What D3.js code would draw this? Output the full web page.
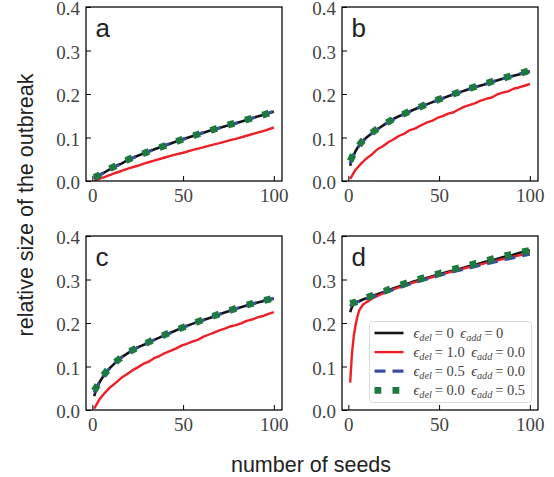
<!DOCTYPE html>
<html>
<head>
<meta charset="utf-8">
<script src="https://cdn.jsdelivr.net/npm/d3@7"></script>
<style>
  html, body { margin: 0; padding: 0; background: #fff; }
  svg { display: block; }
</style>
</head>
<body>
<svg id="chart" width="554" height="477"></svg>
<script>
// number of seeds (x values)
const seeds = [1, 2, 3, 4, 5, 6, 8, 10, 13, 16, 20, 25, 30, 35, 40, 45, 50, 55, 60, 65, 70, 75, 80, 85, 90, 95, 100];
const seedsFine = [1, 4, 7, 10, 13, 16, 19, 22, 25, 28, 31, 34, 37, 40, 43, 46, 49, 52, 55, 58, 61, 64, 67, 70, 73, 76, 79, 82, 85, 88, 91, 94, 97, 100];

// panel a
const aBlack = [0.005, 0.008, 0.011, 0.013, 0.016, 0.018, 0.023, 0.028, 0.034, 0.040, 0.049, 0.058, 0.066, 0.074, 0.081, 0.089, 0.096, 0.103, 0.109, 0.116, 0.122, 0.128, 0.134, 0.140, 0.147, 0.153, 0.160];
const aRed   = [0.001, 0.002, 0.004, 0.005, 0.007, 0.008, 0.011, 0.014, 0.019, 0.023, 0.029, 0.035, 0.042, 0.048, 0.054, 0.060, 0.065, 0.071, 0.076, 0.082, 0.087, 0.093, 0.098, 0.104, 0.110, 0.116, 0.123];
const aBlue  = [0.006, 0.009, 0.011, 0.014, 0.016, 0.018, 0.023, 0.028, 0.034, 0.041, 0.049, 0.058, 0.066, 0.074, 0.082, 0.089, 0.096, 0.103, 0.110, 0.116, 0.122, 0.128, 0.134, 0.141, 0.147, 0.153, 0.160];
const aGreen = [0.008, 0.010, 0.012, 0.014, 0.017, 0.019, 0.024, 0.029, 0.035, 0.041, 0.050, 0.058, 0.066, 0.074, 0.081, 0.089, 0.096, 0.103, 0.110, 0.116, 0.123, 0.129, 0.135, 0.141, 0.147, 0.153, 0.160];

// panel b
const bBlack = [0.035, 0.050, 0.060, 0.069, 0.076, 0.082, 0.092, 0.100, 0.110, 0.119, 0.130, 0.143, 0.153, 0.162, 0.171, 0.179, 0.187, 0.195, 0.202, 0.209, 0.216, 0.222, 0.229, 0.235, 0.241, 0.246, 0.252];
const bRed   = [0.005, 0.026, 0.040, 0.052, 0.061, 0.073, 0.080, 0.089, 0.096, 0.104, 0.109, 0.117, 0.121, 0.128, 0.134, 0.138, 0.145, 0.149, 0.155, 0.158, 0.165, 0.171, 0.175, 0.179, 0.185, 0.189, 0.192, 0.199, 0.203, 0.206, 0.212, 0.215, 0.219, 0.223];
const bBlue  = [0.040, 0.052, 0.061, 0.069, 0.076, 0.082, 0.092, 0.100, 0.110, 0.119, 0.130, 0.142, 0.152, 0.162, 0.171, 0.179, 0.187, 0.195, 0.202, 0.209, 0.216, 0.222, 0.229, 0.235, 0.241, 0.247, 0.252];
const bGreen = [0.046, 0.055, 0.063, 0.070, 0.077, 0.083, 0.093, 0.101, 0.111, 0.120, 0.131, 0.143, 0.153, 0.163, 0.171, 0.180, 0.188, 0.195, 0.203, 0.210, 0.217, 0.223, 0.230, 0.236, 0.242, 0.248, 0.254];

// panel c
const cBlack = [0.032, 0.045, 0.055, 0.064, 0.071, 0.077, 0.089, 0.098, 0.110, 0.121, 0.132, 0.144, 0.153, 0.163, 0.172, 0.181, 0.190, 0.198, 0.205, 0.212, 0.220, 0.227, 0.234, 0.240, 0.246, 0.251, 0.256];
const cRed   = [0.003, 0.025, 0.040, 0.053, 0.063, 0.074, 0.082, 0.091, 0.098, 0.106, 0.111, 0.119, 0.124, 0.131, 0.136, 0.141, 0.148, 0.152, 0.157, 0.161, 0.168, 0.173, 0.178, 0.183, 0.187, 0.192, 0.195, 0.199, 0.205, 0.208, 0.213, 0.216, 0.221, 0.225];
const cBlue  = [0.040, 0.049, 0.057, 0.065, 0.072, 0.078, 0.089, 0.098, 0.110, 0.121, 0.132, 0.144, 0.153, 0.163, 0.172, 0.181, 0.190, 0.198, 0.205, 0.212, 0.220, 0.227, 0.234, 0.240, 0.246, 0.252, 0.257];
const cGreen = [0.044, 0.051, 0.058, 0.066, 0.073, 0.079, 0.090, 0.099, 0.111, 0.121, 0.133, 0.144, 0.154, 0.164, 0.173, 0.182, 0.190, 0.198, 0.206, 0.213, 0.221, 0.228, 0.235, 0.241, 0.247, 0.252, 0.257];

// panel d
const dBlack = [0.225, 0.237, 0.243, 0.246, 0.249, 0.250, 0.254, 0.257, 0.262, 0.266, 0.272, 0.280, 0.287, 0.294, 0.300, 0.306, 0.312, 0.318, 0.323, 0.329, 0.334, 0.340, 0.345, 0.351, 0.356, 0.362, 0.367];
const dRed   = [0.063, 0.130, 0.170, 0.196, 0.215, 0.229, 0.242, 0.248, 0.256, 0.262, 0.270, 0.278, 0.285, 0.292, 0.298, 0.304, 0.310, 0.316, 0.321, 0.327, 0.332, 0.337, 0.342, 0.347, 0.352, 0.356, 0.361];
const dBlue  = [0.238, 0.242, 0.245, 0.247, 0.249, 0.250, 0.253, 0.256, 0.260, 0.264, 0.270, 0.277, 0.284, 0.291, 0.297, 0.303, 0.309, 0.315, 0.320, 0.325, 0.330, 0.335, 0.340, 0.345, 0.349, 0.354, 0.358];
const dGreen = [0.245, 0.246, 0.247, 0.248, 0.250, 0.251, 0.254, 0.258, 0.263, 0.267, 0.273, 0.282, 0.289, 0.296, 0.302, 0.308, 0.314, 0.320, 0.326, 0.331, 0.337, 0.342, 0.348, 0.353, 0.358, 0.363, 0.367];

// axis ticks
const yTicks = [0.0, 0.1, 0.2, 0.3, 0.4];
const xTicks = [0, 50, 100];

// legend text parts
const epsDel = ["0", "1.0", "0.5", "0.0"];
const epsAdd = ["0", "0.0", "0.0", "0.5"];

// ---- drawing ----
const W = 196, H = 174;
const styles = [
  { stroke: "#141414", width: 2.6, dash: null },
  { stroke: "#ee1f26", width: 2.4, dash: null },
  { stroke: "#3a4ea2", width: 3.2, dash: "11,7" },
  { stroke: "#1c7a3c", width: 6.8, dash: "6.8,11.2" }
];

const panels = [
  { label: "a", left: 86,  top: 7,   series: [[seeds, aBlack], [seeds, aRed], [seeds, aBlue], [seeds, aGreen]] },
  { label: "b", left: 342, top: 7,   series: [[seeds, bBlack], [seedsFine, bRed], [seeds, bBlue], [seeds, bGreen]] },
  { label: "c", left: 86,  top: 236, series: [[seeds, cBlack], [seedsFine, cRed], [seeds, cBlue], [seeds, cGreen]] },
  { label: "d", left: 342, top: 236, series: [[seeds, dBlack], [seeds, dRed], [seeds, dBlue], [seeds, dGreen]] }
];

const svg = d3.select("#chart");
const x = d3.scaleLinear().domain([-3.5, 104.5]).range([0, W]);
const y = d3.scaleLinear().domain([0, 0.4]).range([H, 0]);

const serif = "'Liberation Serif', 'Times New Roman', serif";
const sans = "'Liberation Sans', Arial, Helvetica, sans-serif";

panels.forEach((p, i) => {
  const g = svg.append("g").attr("transform", `translate(${p.left},${p.top})`);

  const clipId = "clip" + i;
  g.append("clipPath").attr("id", clipId)
    .append("rect").attr("width", W).attr("height", H);

  const line = d3.line().x(d => x(d[0])).y(d => y(d[1]));
  const plot = g.append("g").attr("clip-path", `url(#${clipId})`);
  p.series.forEach(([xs, ys], k) => {
    const st = styles[k];
    plot.append("path")
      .datum(xs.map((v, j) => [v, ys[j]]))
      .attr("d", line)
      .attr("fill", "none")
      .attr("stroke", st.stroke)
      .attr("stroke-width", st.width)
      .attr("stroke-dasharray", st.dash)
      .attr("stroke-linecap", "butt")
      .attr("stroke-linejoin", "round");
  });

  const yAxis = d3.axisLeft(y).tickValues(yTicks).tickFormat(d3.format(".1f"))
    .tickSizeInner(-5).tickSizeOuter(0).tickPadding(6);
  const xAxis = d3.axisBottom(x).tickValues(xTicks).tickFormat(d3.format("d"))
    .tickSizeInner(-5).tickSizeOuter(0).tickPadding(8);

  const ya = g.append("g").call(yAxis);
  const xa = g.append("g").attr("transform", `translate(0,${H})`).call(xAxis);
  [ya, xa].forEach(a => {
    a.select(".domain").remove();
    a.selectAll("line").attr("stroke", "#000").attr("stroke-width", 1);
    a.selectAll("text").attr("font-family", serif).attr("font-size", 19).attr("fill", "#444");
  });
  ya.selectAll("text").attr("dy", "0.4em");

  g.append("rect").attr("width", W).attr("height", H)
    .attr("fill", "none").attr("stroke", "#000").attr("stroke-width", 1.25);

  g.append("text").attr("x", 9.5).attr("y", 29.5)
    .attr("font-family", sans).attr("font-size", 26).attr("fill", "#222")
    .text(p.label);
});

// legend inside panel d
const lg = svg.append("g").attr("transform", "translate(369.5,321.5)");
lg.append("rect").attr("width", 162).attr("height", 81).attr("rx", 3)
  .attr("fill", "#fff").attr("fill-opacity", 0.85)
  .attr("stroke", "#dcdcdc").attr("stroke-width", 1);

epsDel.forEach((dv, i) => {
  const ry = 11.5 + i * 19.1;
  const st = styles[i];
  lg.append("line").attr("x1", 5).attr("x2", 34).attr("y1", ry).attr("y2", ry)
    .attr("stroke", st.stroke).attr("stroke-width", st.width)
    .attr("stroke-dasharray", st.dash).attr("stroke-linecap", "butt");
  const t = lg.append("text").attr("x", 44).attr("y", ry + 4.8)
    .attr("font-family", serif).attr("font-size", 14.5).attr("fill", "#444");
  t.append("tspan").attr("font-style", "italic").text("\u03F5");
  t.append("tspan").attr("font-style", "italic").attr("font-size", 10.2).attr("dy", 3).text("del");
  t.append("tspan").attr("dy", -3).text("\u2009= " + dv + "\u2009 ");
  t.append("tspan").attr("font-style", "italic").text("\u03F5");
  t.append("tspan").attr("font-style", "italic").attr("font-size", 10.2).attr("dy", 3).text("add");
  t.append("tspan").attr("dy", -3).text("\u2009= " + epsAdd[i]);
});

// shared axis titles
svg.append("text")
  .attr("transform", "translate(33,205) rotate(-90)")
  .attr("text-anchor", "middle")
  .attr("font-family", sans).attr("font-size", 21.5).attr("fill", "#222")
  .text("relative size of the outbreak");

svg.append("text")
  .attr("x", 311).attr("y", 472)
  .attr("text-anchor", "middle")
  .attr("font-family", sans).attr("font-size", 21.5).attr("fill", "#222")
  .text("number of seeds");
</script>
</body>
</html>
